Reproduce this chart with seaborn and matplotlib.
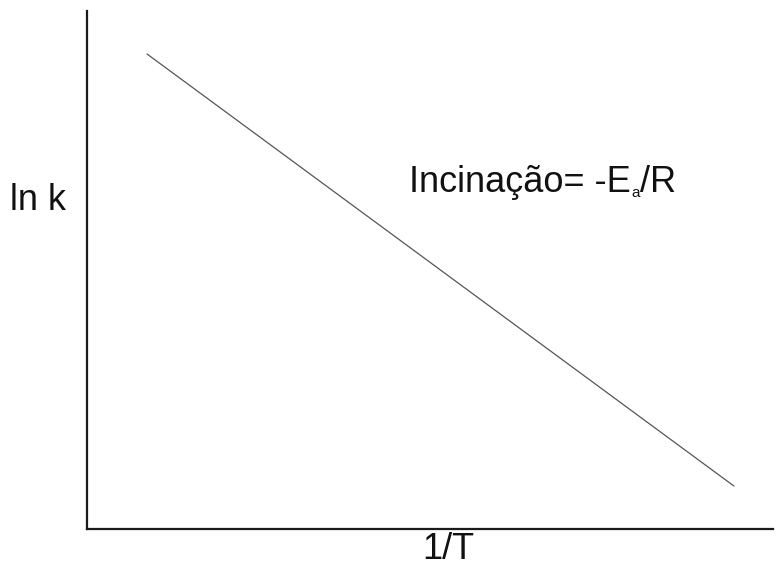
import matplotlib
matplotlib.use("Agg")
import matplotlib.pyplot as plt
import seaborn as sns
import pandas as pd

# Arrhenius plot: ln k against 1/T (arbitrary units)
inv_T = [0.0875, 0.943]
ln_k = [0.917, 0.083]
slope_parts = ["Incinação= -E", "a", "/R"]
x_label = "1/T"
y_label = "ln k"

sns.set_style("white")
plt.rcParams["font.family"] = ["Liberation Sans", "DejaVu Sans"]

df = pd.DataFrame({"inv_T": inv_T, "ln_k": ln_k})

fig = plt.figure(figsize=(7.84, 5.65), dpi=100)
ax = fig.add_axes([87 / 784, 1 - 529 / 565, 686 / 784, 518 / 565])

sns.lineplot(data=df, x="inv_T", y="ln_k", ax=ax, color="#555555", linewidth=0.9)

ax.set_xlim(0, 1)
ax.set_ylim(0, 1)
ax.set_xticks([])
ax.set_yticks([])
sns.despine(ax=ax)
for side in ("left", "bottom"):
    ax.spines[side].set_color("#1a1a1a")
    ax.spines[side].set_linewidth(1.6)

ax.set_xlabel(x_label, fontsize=26, va="top", ha="center", color="#111111")
ax.xaxis.set_label_coords(0.526, -0.006)
ax.set_ylabel(y_label, fontsize=26, rotation=0, va="center", ha="center",
              color="#111111")
ax.yaxis.set_label_coords(-0.071, 0.635)

# slope annotation with a small, lowered subscript "a"
base_x, base_y = 0.469, 0.65
main = ax.text(base_x, base_y, slope_parts[0], fontsize=26, ha="left",
               va="baseline", transform=ax.transAxes, color="#111111")
fig.canvas.draw()
inv = ax.transAxes.inverted()
x_end = inv.transform(main.get_window_extent().p1)[0]
sub = ax.text(x_end + 0.001, base_y - 0.010, slope_parts[1], fontsize=11,
              ha="left", va="baseline", transform=ax.transAxes, color="#111111")
fig.canvas.draw()
x_end = inv.transform(sub.get_window_extent().p1)[0]
ax.text(x_end, base_y, slope_parts[2], fontsize=26, ha="left",
        va="baseline", transform=ax.transAxes, color="#111111")

fig.savefig("out.png", dpi=100, facecolor="white")
